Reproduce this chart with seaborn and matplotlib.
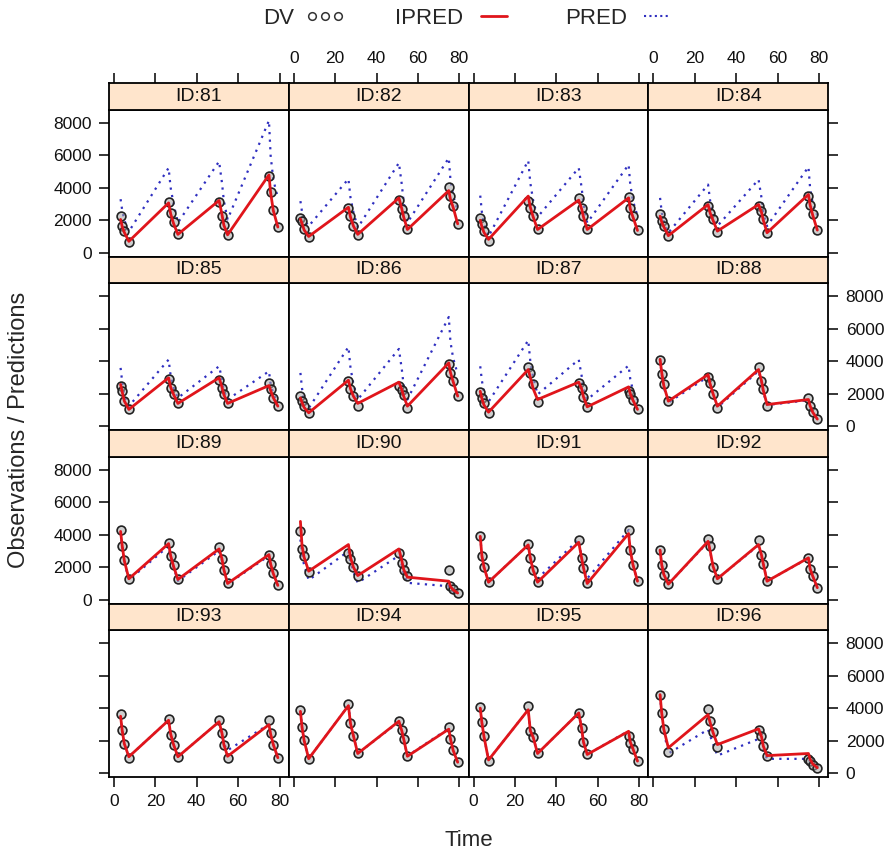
import numpy as np
import pandas as pd
import matplotlib
matplotlib.use("Agg")
import matplotlib.pyplot as plt
import seaborn as sns
from matplotlib.lines import Line2D

# ---------------- data ----------------
IDS = [81, 82, 83, 84, 85, 86, 87, 88, 89, 90, 91, 92, 93, 94, 95, 96]
TIME = [3.2, 4.0, 5.0, 7.2, 26.4, 27.4, 28.8, 30.9, 50.8, 52.2, 53.1, 54.9, 74.9, 75.7, 77.0, 79.2]

DV = {
    81: [2250, 1640, 1330, 680, 3110, 2460, 1880, 1130, 3110, 2290, 1700, 1080, 4750, 3730, 2620, 1580],
    82: [2150, 1940, 1430, 980, 2770, 2250, 1640, 1080, 3280, 2710, 2250, 1430, 4030, 3480, 2910, 1780],
    83: [2150, 1740, 1330, 720, 3180, 2770, 2250, 1430, 3380, 2770, 2250, 1430, 3440, 2770, 2250, 1370],
    84: [2360, 1940, 1640, 1020, 2910, 2460, 2050, 1290, 2910, 2560, 2050, 1230, 3520, 2970, 2360, 1390],
    85: [2460, 2150, 1540, 1030, 2920, 2360, 1950, 1400, 2830, 2360, 1950, 1400, 2630, 2260, 1750, 1230],
    86: [1850, 1540, 1230, 820, 2770, 2260, 1850, 1270, 2500, 2200, 1900, 1130, 3800, 3280, 2770, 1850],
    87: [2090, 1750, 1400, 820, 3650, 3280, 2570, 1480, 2630, 2360, 1810, 1190, 2150, 1950, 1640, 1070],
    88: [4100, 3240, 2570, 1540, 3040, 2630, 2010, 1090, 3650, 2770, 2260, 1270, 1750, 1270, 860, 460],
    89: [4310, 3330, 2420, 1280, 3490, 2670, 2100, 1240, 3250, 2510, 1850, 990, 2770, 2220, 1610, 870],
    90: [4210, 3120, 2670, 1690, 2840, 2470, 2020, 1440, 2840, 2260, 1850, 1440, 1810, 820, 620, 420],
    91: [3940, 2710, 1990, 1070, 3450, 2570, 1810, 1070, 3700, 2570, 1960, 990, 4270, 3080, 2160, 1130],
    92: [3080, 2160, 1540, 930, 3740, 3280, 2020, 1280, 3650, 2770, 2220, 1130, 2570, 1890, 1440, 730],
    93: [3660, 2630, 1810, 940, 3330, 2370, 1750, 1000, 3250, 2470, 1750, 940, 3250, 2470, 1750, 940],
    94: [3910, 2840, 2020, 870, 4270, 3090, 2310, 1200, 3190, 2630, 2100, 1030, 2840, 2100, 1400, 660],
    95: [4070, 3120, 2260, 730, 4150, 2570, 2230, 1200, 3700, 2780, 1890, 1140, 2310, 1860, 1490, 730],
    96: [4830, 3700, 2720, 1280, 3950, 3190, 2510, 1610, 2680, 2260, 1650, 1030, 870, 730, 520, 320],
}
IPRED = {
    81: [2050, 1600, 1250, 700, 3070, 2400, 1800, 1130, 3220, 2350, 1700, 1100, 4800, 3700, 2600, 1580],
    82: [2080, 1800, 1400, 1000, 2800, 2200, 1650, 1130, 3380, 2700, 2200, 1430, 3830, 3300, 2800, 1780],
    83: [2000, 1600, 1250, 820, 3490, 2800, 2200, 1430, 3240, 2700, 2200, 1430, 3380, 2700, 2200, 1370],
    84: [2250, 1900, 1600, 1050, 2970, 2450, 2000, 1330, 2970, 2500, 2000, 1230, 3590, 2950, 2300, 1390],
    85: [2570, 2100, 1550, 1030, 2980, 2400, 1950, 1400, 2980, 2400, 1950, 1400, 2500, 2200, 1750, 1230],
    86: [1740, 1450, 1150, 820, 2830, 2300, 1850, 1400, 2710, 2250, 1850, 1230, 3900, 3300, 2750, 1850],
    87: [2150, 1700, 1300, 860, 3490, 3000, 2300, 1640, 2710, 2300, 1800, 1190, 2420, 2000, 1600, 1030],
    88: [4120, 3300, 2500, 1540, 3180, 2600, 2000, 1230, 3490, 2800, 2200, 1330, 1640, 1250, 850, 430],
    89: [4200, 3300, 2400, 1280, 3450, 2700, 2050, 1240, 3120, 2500, 1850, 990, 2770, 2200, 1600, 870],
    90: [4820, 3300, 2600, 1750, 3390, 2600, 2000, 1480, 3120, 2400, 1850, 1380, 1130, 800, 600, 400],
    91: [3900, 2700, 2000, 1070, 3370, 2550, 1800, 1070, 3530, 2550, 1950, 990, 4070, 3050, 2150, 1130],
    92: [3050, 2150, 1550, 950, 3590, 3000, 2050, 1280, 3390, 2750, 2200, 1130, 2570, 1900, 1440, 730],
    93: [3500, 2600, 1800, 1000, 3250, 2400, 1750, 1000, 3160, 2450, 1750, 1030, 2980, 2400, 1750, 940],
    94: [3800, 2800, 2000, 880, 4150, 3050, 2300, 1200, 3190, 2600, 2100, 1030, 2700, 2100, 1400, 660],
    95: [4000, 3100, 2250, 800, 3900, 2600, 2200, 1200, 3700, 2750, 1900, 1140, 2570, 1900, 1490, 730],
    96: [4830, 3700, 2700, 1550, 3600, 3100, 2500, 1750, 2720, 2250, 1650, 1070, 1200, 850, 550, 320],
}
PRED = {
    81: [3300, 2600, 2000, 1300, 5230, 4000, 3000, 1850, 5630, 4300, 3200, 2050, 8150, 6000, 4500, 3380],
    82: [3180, 2500, 2000, 1640, 4550, 3400, 2500, 1540, 5540, 4200, 3100, 1850, 5840, 4500, 3500, 2600],
    83: [3520, 2500, 1800, 1000, 5680, 4300, 3200, 2200, 5230, 4000, 3000, 1840, 5430, 4200, 3200, 2250],
    84: [3380, 2500, 1900, 1230, 4200, 3200, 2400, 1640, 4510, 3400, 2500, 1640, 5290, 4000, 3000, 2300],
    85: [3590, 2700, 1900, 1230, 4100, 3100, 2400, 1740, 3690, 2900, 2200, 1640, 3380, 2600, 2000, 1430],
    86: [3280, 2300, 1600, 1100, 4880, 3600, 2600, 1640, 4760, 3500, 2500, 1640, 6730, 5200, 4200, 3200],
    87: [3690, 2800, 2100, 1500, 5290, 4000, 3000, 1950, 4100, 3100, 2300, 1640, 3730, 2900, 2200, 1600],
    88: [4100, 3200, 2400, 1450, 3050, 2500, 1900, 1150, 3400, 2700, 2100, 1300, 1600, 1200, 800, 420],
    89: [4150, 3250, 2350, 1200, 3300, 2600, 2000, 1150, 3000, 2400, 1800, 950, 2700, 2150, 1550, 850],
    90: [3700, 2800, 2100, 1200, 2980, 2300, 1700, 1030, 2710, 2100, 1600, 1030, 820, 650, 500, 360],
    91: [3900, 2700, 2000, 1070, 3370, 2550, 1800, 1300, 3700, 2600, 1950, 1300, 4290, 3100, 2150, 1130],
    92: [3050, 2150, 1550, 950, 3550, 2950, 2050, 1280, 3350, 2700, 2200, 1130, 2550, 1900, 1440, 730],
    93: [3500, 2600, 1800, 1000, 3250, 2400, 1750, 1000, 3160, 2450, 1800, 1400, 3000, 2400, 1750, 940],
    94: [3800, 2800, 2000, 880, 4150, 3050, 2300, 1200, 3150, 2600, 2100, 1050, 2750, 2100, 1400, 660],
    95: [4000, 3100, 2250, 800, 3900, 2600, 2200, 1200, 3700, 2750, 1900, 1140, 2600, 1900, 1490, 730],
    96: [4800, 3600, 2600, 1200, 2680, 2300, 1800, 1070, 2100, 1800, 1400, 870, 870, 700, 500, 320],
}
X_TICKS = [0, 20, 40, 60, 80]
Y_TICKS = [0, 2000, 4000, 6000, 8000]

# ---------------- style ----------------
sns.set_theme(style="white")
plt.rcParams["font.family"] = ["Liberation Sans", "DejaVu Sans"]

RED = "#e0151b"
BLUE = "#2f2fc0"
STRIP = "#ffe5cc"
W, H = 895, 856
LEFT, RIGHT = 109.0, 828.3
TOP, BOTTOM = 83.3, 777.0
PW = (RIGHT - LEFT) / 4
RH = (BOTTOM - TOP) / 4
SH = 26.4
XLIM = (-2.4, 84.5)
YLIM = (-250, 8820)

fig = plt.figure(figsize=(W / 100, H / 100), dpi=100)

for i, sid in enumerate(IDS):
    r, c = divmod(i, 4)
    x0 = LEFT + c * PW
    ax = fig.add_axes([x0 / W, 1 - (TOP + (r + 1) * RH) / H, PW / W, (RH - SH) / H])
    sax = fig.add_axes([x0 / W, 1 - (TOP + r * RH + SH) / H, PW / W, SH / H])

    df = pd.DataFrame({"Time": TIME, "DV": DV[sid], "IPRED": IPRED[sid], "PRED": PRED[sid]})
    sns.lineplot(data=df, x="Time", y="PRED", ax=ax, color=BLUE, linewidth=1.6,
                 linestyle=(0, (1, 2.4)), estimator=None, sort=False, zorder=2)
    sns.scatterplot(data=df, x="Time", y="DV", ax=ax, s=40, color=(0.65, 0.65, 0.65, 0.55),
                    edgecolor="#222222", linewidth=1.2, zorder=3)
    sns.lineplot(data=df, x="Time", y="IPRED", ax=ax, color=RED, linewidth=2.0,
                 estimator=None, sort=False, zorder=4)

    ax.set_xlim(*XLIM)
    ax.set_ylim(*YLIM)
    ax.set_xlabel("")
    ax.set_ylabel("")
    ax.set_xticks(X_TICKS)
    ax.set_yticks(Y_TICKS)
    ax.set_facecolor("white")
    for sp in ax.spines.values():
        sp.set_color("black")
        sp.set_linewidth(1.3)
        sp.set_visible(True)
    ax.tick_params(axis="both", direction="out", length=7.5, width=1.1, color="black",
                   labelsize=12.5, labelcolor="#111111", pad=5)
    ax.tick_params(axis="x", bottom=(r == 3), labelbottom=(r == 3 and c in (0, 2)),
                   top=False, labeltop=False)
    ax.tick_params(axis="y", left=(c == 0), labelleft=(c == 0 and r in (0, 2)),
                   right=(c == 3), labelright=(c == 3 and r in (1, 3)))

    # strip
    sax.set_facecolor(STRIP)
    sax.set_xlim(*XLIM)
    sax.set_ylim(0, 1)
    sax.set_yticks([])
    for sp in sax.spines.values():
        sp.set_color("black")
        sp.set_linewidth(1.3)
        sp.set_visible(True)
    if r == 0:
        sax.set_xticks(X_TICKS)
        sax.tick_params(axis="x", top=True, labeltop=(c in (1, 3)), bottom=False,
                        labelbottom=False, direction="out", length=7.5, width=1.1,
                        color="black", labelsize=12.5, labelcolor="#111111", pad=5)
    else:
        sax.set_xticks([])
    sax.text(0.5, 0.5, f"ID:{sid}", transform=sax.transAxes, ha="center", va="center",
             fontsize=14, color="#111111")

# axis titles
fig.text((LEFT + RIGHT) / 2 / W, 1 - 840 / H, "Time", ha="center", va="center", fontsize=16)
fig.text(19 / W, 1 - (TOP + BOTTOM) / 2 / H, "Observations / Predictions", ha="center",
         va="center", rotation=90, fontsize=17)

# legend
handles = [
    Line2D([], [], linestyle="none", marker="o", markersize=5.5, markerfacecolor="none",
           markeredgecolor="#333333", markeredgewidth=1.1),
    Line2D([], [], color=RED, linewidth=2.0),
    Line2D([], [], color=BLUE, linewidth=1.5, linestyle=(0, (1, 1.6))),
]
fig.legend(handles, ["DV", "IPRED", "PRED"], loc="center", bbox_to_anchor=(470 / W, 1 - 18 / H),
           ncol=3, frameon=False, markerfirst=False, numpoints=3, handlelength=1.75,
           columnspacing=2.3, handletextpad=0.5, fontsize=16)

fig.savefig("out.png", dpi=100)
